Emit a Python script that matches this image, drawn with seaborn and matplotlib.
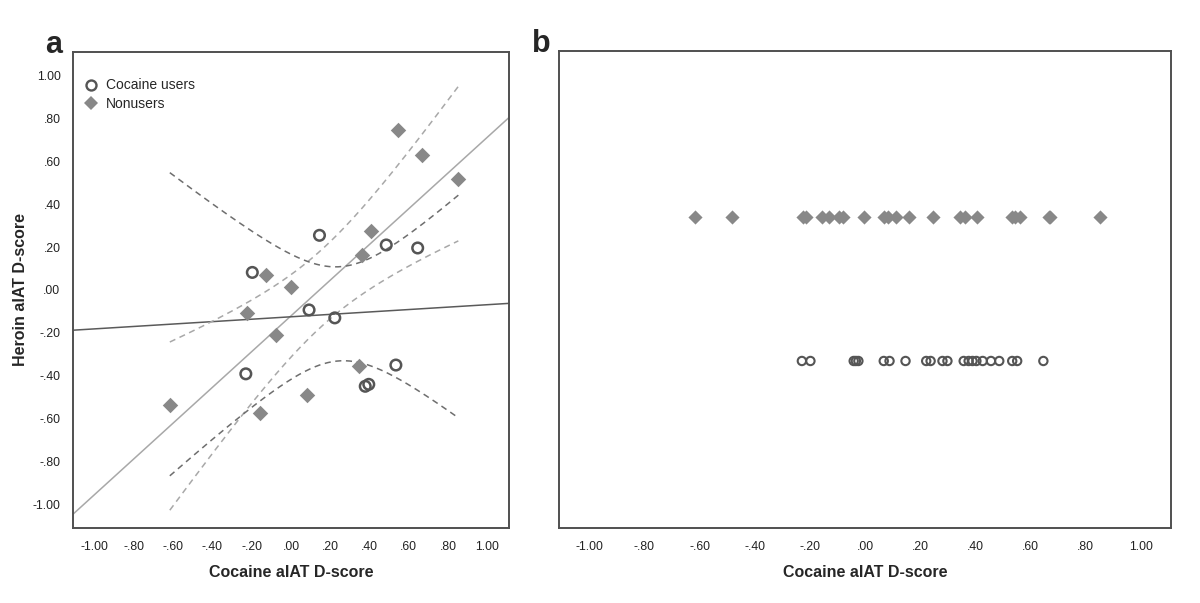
import matplotlib
matplotlib.use("Agg")
import matplotlib.pyplot as plt
from matplotlib.lines import Line2D
from matplotlib.ticker import FuncFormatter
import numpy as np
import pandas as pd
import seaborn as sns

sns.set_style("white")
plt.rcParams["font.family"] = ["Liberation Sans", "DejaVu Sans"]

# panel a: heroin vs cocaine D-score
users_x = [-0.197, 0.145, 0.485, 0.645, 0.092, 0.223, -0.230, 0.534, 0.378, 0.396]
users_y = [0.082, 0.255, 0.210, 0.196, -0.093, -0.130, -0.391, -0.350, -0.449, -0.440]
nonusers_x = [0.544, 0.668, 0.852, 0.407, 0.362, -0.129, -0.002, -0.226, -0.078,
              0.344, -0.617, 0.083, -0.157]
nonusers_y = [0.744, 0.631, 0.518, 0.274, 0.162, 0.070, 0.012, -0.105, -0.210,
              -0.353, -0.535, -0.492, -0.575]

# panel b: cocaine D-score per group
b_nonusers_x = [-0.615, -0.484, -0.226, -0.215, -0.157, -0.129, -0.093, -0.078, -0.002,
                0.070, 0.083, 0.112, 0.158, 0.247, 0.344, 0.362, 0.407, 0.532, 0.544,
                0.562, 0.666, 0.672, 0.852]
b_users_x = [-0.229, -0.198, -0.041, -0.033, -0.024, 0.068, 0.089, 0.147, 0.222, 0.238,
             0.281, 0.299, 0.358, 0.376, 0.390, 0.404, 0.427, 0.457, 0.487, 0.534,
             0.552, 0.647]

groups = ["Cocaine users", "Nonusers"]
ticks = np.round(np.arange(-1.0, 1.01, 0.2), 2)
lim = (-1.11, 1.11)

# two-sided 95% t quantiles by degrees of freedom
T975 = {8: 2.306, 11: 2.201}

GRAY_D = "#888888"
GRAY_O = "#555555"
SPINE = "#505050"


def spss_fmt(v, pos=None):
    # SPSS style: no leading zero, plain hyphen for negatives
    s = f"{abs(v):.2f}"
    if abs(v) < 0.995:
        s = s[1:]
    return ("-" if v < -1e-9 else "") + s


def fit_band(x, y, grid):
    x = np.asarray(x)
    y = np.asarray(y)
    n = len(x)
    b1, b0 = np.polyfit(x, y, 1)
    resid = y - (b0 + b1 * x)
    s = np.sqrt((resid ** 2).sum() / (n - 2))
    sxx = ((x - x.mean()) ** 2).sum()
    half = T975[n - 2] * s * np.sqrt(1 / n + (grid - x.mean()) ** 2 / sxx)
    fit = b0 + b1 * grid
    return b0, b1, fit - half, fit + half


def style_axes(ax):
    for sp in ax.spines.values():
        sp.set_visible(True)
        sp.set_color(SPINE)
        sp.set_linewidth(1.4)
    ax.set_xlim(*lim)
    ax.set_xticks(ticks)
    ax.xaxis.set_major_formatter(FuncFormatter(spss_fmt))
    ax.tick_params(axis="both", which="major", direction="out", length=6, width=1.2,
                   color=SPINE, labelsize=8.8, labelcolor="#222222", pad=3)
    ax.set_xlabel("Cocaine aIAT D-score", fontsize=11.5, fontweight="bold", labelpad=9)


fig = plt.figure(figsize=(12, 6.03), dpi=100)
ax_a = fig.add_axes([73 / 1200, 75 / 603, 436 / 1200, 476 / 603])
ax_b = fig.add_axes([559 / 1200, 75 / 603, 612 / 1200, 477 / 603])

# ---- panel a ----
all_x = np.array(users_x + nonusers_x)
grid = np.linspace(all_x.min(), all_x.max(), 200)
edge = np.array(lim)

b0n, b1n, lo_n, hi_n = fit_band(nonusers_x, nonusers_y, grid)
b0u, b1u, lo_u, hi_u = fit_band(users_x, users_y, grid)

ax_a.plot(edge, b0n + b1n * edge, color="#a8a8a8", lw=1.1, zorder=1)
ax_a.plot(edge, b0u + b1u * edge, color="#5a5a5a", lw=1.1, zorder=1)
for band in (lo_n, hi_n):
    ax_a.plot(grid, band, color="#a8a8a8", lw=1.1, ls=(0, (4, 3)), zorder=1)
for band in (lo_u, hi_u):
    ax_a.plot(grid, band, color="#6e6e6e", lw=1.1, ls=(0, (4, 3)), zorder=1)

sns.scatterplot(x=nonusers_x, y=nonusers_y, marker="D", s=62, color=GRAY_D,
                linewidth=0, ax=ax_a, zorder=3)
sns.scatterplot(x=users_x, y=users_y, marker="o", s=58, facecolor="none",
                edgecolor=GRAY_O, linewidth=1.8, ax=ax_a, zorder=3)

style_axes(ax_a)
ax_a.set_ylim(*lim)
ax_a.set_yticks(ticks)
ax_a.yaxis.set_major_formatter(FuncFormatter(spss_fmt))
ax_a.set_ylabel("Heroin aIAT D-score", fontsize=11.5, fontweight="bold", labelpad=3)

handles = [
    Line2D([], [], ls="none", marker="o", markersize=7.2, markerfacecolor="none",
           markeredgecolor=GRAY_O, markeredgewidth=1.7),
    Line2D([], [], ls="none", marker="D", markersize=7.0, markerfacecolor=GRAY_D,
           markeredgewidth=0),
]
ax_a.legend(handles, groups, loc="upper left", bbox_to_anchor=(-0.005, 0.965), frameon=False,
            fontsize=10, handletextpad=0.3, labelspacing=0.35, borderaxespad=0.3,
            handlelength=1.5)

# ---- panel b ----
df_b = pd.DataFrame({
    "x": b_users_x + b_nonusers_x,
    "group": [groups[0]] * len(b_users_x) + [groups[1]] * len(b_nonusers_x),
})
df_b["row"] = df_b["group"].map({groups[0]: 0, groups[1]: 1})

sns.scatterplot(data=df_b[df_b["group"] == groups[1]], x="x", y="row", marker="D", s=52,
                color=GRAY_D, linewidth=0, ax=ax_b, zorder=3)
sns.scatterplot(data=df_b[df_b["group"] == groups[0]], x="x", y="row", marker="o", s=36,
                facecolor="none", edgecolor=GRAY_O, linewidth=1.5, ax=ax_b, zorder=3)

style_axes(ax_b)
ax_b.set_ylim(-1.16, 2.153)
ax_b.set_yticks([])
ax_b.set_ylabel("")

fig.text(45 / 1200, 1 - 53 / 603, "a", fontsize=22, fontweight="bold", ha="left",
         va="baseline")
fig.text(532 / 1200, 1 - 52 / 603, "b", fontsize=22, fontweight="bold", ha="left",
         va="baseline")

fig.savefig("out.png", dpi=100)
